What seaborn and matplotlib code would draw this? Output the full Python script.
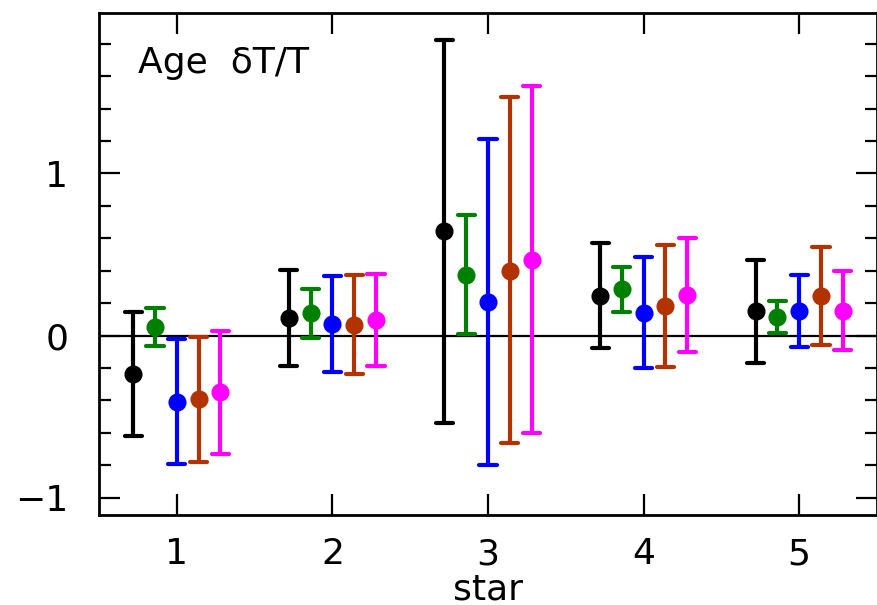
import numpy as np
import pandas as pd
import matplotlib
matplotlib.use("Agg")
import matplotlib.pyplot as plt
from matplotlib.ticker import MultipleLocator, FixedLocator
import seaborn as sns

stars = [1, 2, 3, 4, 5]
series = ["s1", "s2", "s3", "s4", "s5"]
colors = ["#000000", "#008000", "#0000ff", "#b33300", "#ff00ff"]

center_s1 = [-0.24, 0.107, 0.642, 0.245, 0.154]
lo_s1 = [-0.62, -0.185, -0.54, -0.078, -0.167]
hi_s1 = [0.148, 0.405, 1.825, 0.574, 0.467]

center_s2 = [0.05, 0.142, 0.375, 0.286, 0.114]
lo_s2 = [-0.064, -0.016, 0.009, 0.146, 0.015]
hi_s2 = [0.17, 0.288, 0.745, 0.42, 0.216]

center_s3 = [-0.41, 0.072, 0.21, 0.138, 0.154]
lo_s3 = [-0.79, -0.222, -0.80, -0.20, -0.072]
hi_s3 = [-0.02, 0.368, 1.214, 0.484, 0.375]

center_s4 = [-0.39, 0.066, 0.40, 0.183, 0.241]
lo_s4 = [-0.78, -0.236, -0.66, -0.197, -0.057]
hi_s4 = [-0.006, 0.375, 1.47, 0.56, 0.549]

center_s5 = [-0.35, 0.097, 0.467, 0.251, 0.154]
lo_s5 = [-0.73, -0.19, -0.60, -0.099, -0.088]
hi_s5 = [0.025, 0.381, 1.537, 0.601, 0.40]

centers = [center_s1, center_s2, center_s3, center_s4, center_s5]
los = [lo_s1, lo_s2, lo_s3, lo_s4, lo_s5]
his = [hi_s1, hi_s2, hi_s3, hi_s4, hi_s5]

# long table: three rows per point (low, centre, high); median -> centre, 100% interval -> bar
rows = []
for name, c, l, h in zip(series, centers, los, his):
    for i, s in enumerate(stars):
        for v in (l[i], c[i], h[i]):
            rows.append({"star": s, "series": name, "value": v})
df = pd.DataFrame(rows)

sns.set_theme(style="ticks")
plt.rcParams["font.family"] = ["DejaVu Sans"]
plt.rcParams["text.color"] = "black"
plt.rcParams["axes.labelcolor"] = "black"
plt.rcParams["xtick.color"] = "black"
plt.rcParams["ytick.color"] = "black"

fig = plt.figure(figsize=(8.78, 6.05), dpi=100)
ax = fig.add_axes([0.1128, 0.1488, 0.8861, 0.8297])

ax.axhline(0, color="black", lw=1.6, zorder=0)

sns.pointplot(
    data=df, x="star", y="value", hue="series", hue_order=series,
    palette=colors, native_scale=True, estimator=np.median,
    errorbar=("pi", 100), dodge=0.56, linestyle="none", markers="o",
    markersize=11, capsize=0.11, err_kws={"linewidth": 3.0},
    legend=False, ax=ax,
)

ax.set_xlim(0.5, 5.5)
ax.set_ylim(-1.107, 1.99)
ax.xaxis.set_major_locator(FixedLocator(stars))
ax.set_xticklabels([str(s) for s in stars])
ax.yaxis.set_major_locator(FixedLocator([-1, 0, 1]))
ax.yaxis.set_minor_locator(MultipleLocator(0.2))
ax.set_yticklabels(["\u22121", "0", "1"])

ax.tick_params(axis="both", which="both", direction="in", top=True, right=True,
               colors="black", labelcolor="black")
ax.tick_params(axis="both", which="major", length=15, width=1.6, labelsize=26)
ax.tick_params(axis="both", which="minor", length=8.5, width=1.6)
ax.tick_params(axis="y", which="major", pad=22)
ax.tick_params(axis="x", which="major", pad=16)

for sp in ax.spines.values():
    sp.set_linewidth(2.0)
    sp.set_color("black")
    sp.set_visible(True)

ax.set_xlabel("star", fontsize=26, labelpad=1, color="black")
ax.set_ylabel("")
ax.text(0.05, 0.88, "Age  \u03b4T/T", transform=ax.transAxes, fontsize=26,
        ha="left", va="baseline", color="black")

fig.savefig("out.png", dpi=100)
